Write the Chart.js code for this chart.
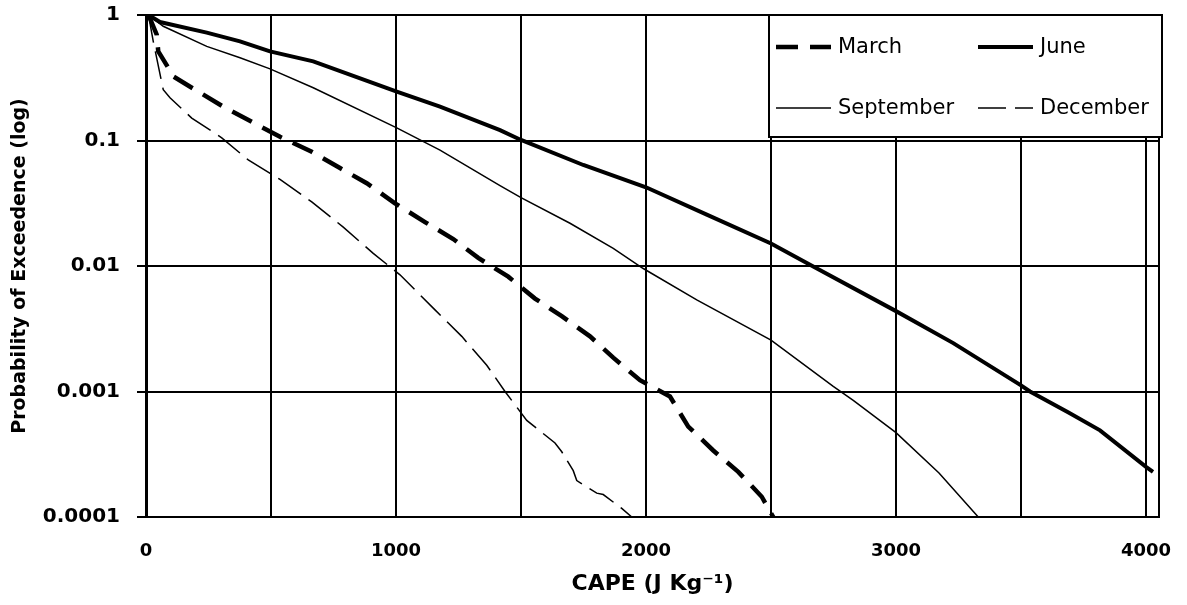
<!DOCTYPE html>
<html>
<head>
<meta charset="utf-8">
<title>Probability of Exceedence of CAPE</title>
<script src="https://cdn.jsdelivr.net/npm/chart.js@4.4.1/dist/chart.umd.min.js"></script>
<style>
  html, body { margin: 0; padding: 0; background: #fff; }
  canvas { display: block; }
</style>
</head>
<body>
<canvas id="capeChart" width="1187" height="605"></canvas>
<script>
// values (CAPE in J/kg, probability of exceedence)
const marchCape = [10, 43, 49, 89, 109, 196, 309, 423, 536, 663, 776, 883, 996, 1116, 1229, 1329, 1449, 1556, 1663, 1776, 1869, 1976, 2096, 2169, 2269, 2369, 2463, 2509];
const marchProb = [1, 0.697, 0.513, 0.380, 0.324, 0.254, 0.186, 0.141, 0.107, 0.0813, 0.0603, 0.0457, 0.0316, 0.0224, 0.0164, 0.0116, 0.00822, 0.00550, 0.00398, 0.00275, 0.00186, 0.00123, 0.000912, 0.000525, 0.000339, 0.000229, 0.000145, 0.0001];

const juneCape = [10, 56, 243, 376, 496, 669, 1003, 1176, 1416, 1500, 1749, 2000, 2243, 2500, 2669, 3000, 3229, 3500, 3536, 3690, 3816, 4000, 4028];
const juneProb = [1, 0.879, 0.724, 0.617, 0.513, 0.427, 0.245, 0.186, 0.121, 0.101, 0.0638, 0.0424, 0.0257, 0.0151, 0.00989, 0.00437, 0.00243, 0.00112, 0.0010, 0.00068, 0.00049, 0.000251, 0.000229];

const septCape = [10, 69, 243, 376, 496, 669, 1003, 1176, 1416, 1500, 1696, 1869, 1989, 2203, 2500, 2749, 2829, 3000, 3172, 3329];
const septProb = [1, 0.813, 0.562, 0.457, 0.372, 0.263, 0.126, 0.0839, 0.0437, 0.0351, 0.0219, 0.0138, 0.00955, 0.00537, 0.00257, 0.0011, 0.00085, 0.00047, 0.000224, 0.0001];

const decCape = [10, 29, 69, 96, 183, 303, 409, 536, 663, 789, 909, 1016, 1156, 1263, 1363, 1436, 1523, 1636, 1663, 1709, 1723, 1803, 1829, 1903, 1943];
const decProb = [1, 0.617, 0.254, 0.219, 0.151, 0.105, 0.070, 0.049, 0.0324, 0.0204, 0.0126, 0.00851, 0.00447, 0.00275, 0.00162, 0.001, 0.000589, 0.000389, 0.000331, 0.000234, 0.000195, 0.000155, 0.000151, 0.000117, 0.0001];

const seriesLabels = ['March', 'June', 'September', 'December'];
const yTicks = [0.0001, 0.001, 0.01, 0.1, 1];
const yTickLabels = ['0.0001', '0.001', '0.01', '0.1', '1'];
const xGrid = [0, 500, 1000, 1500, 2000, 2500, 3000, 3500, 4000];
const xTickLabels = ['0', '', '1000', '', '2000', '', '3000', '', '4000'];

const toPoints = (xs, ys) => xs.map((x, i) => ({ x: x, y: ys[i] }));

// right frame line + legend box in the top right corner
const frameAndLegend = {
  id: 'frameAndLegend',
  afterDraw(chart) {
    const { ctx, chartArea: a } = chart;
    ctx.save();
    ctx.strokeStyle = '#000';
    ctx.lineWidth = 2;
    ctx.beginPath();
    ctx.moveTo(a.right, a.top);
    ctx.lineTo(a.right, a.bottom);
    ctx.stroke();

    const boxL = a.right - 390, boxT = a.top, boxW = 393, boxH = 122;
    ctx.fillStyle = '#fff';
    ctx.fillRect(boxL, boxT, boxW, boxH);
    ctx.strokeRect(boxL, boxT, boxW, boxH);

    const colX = [boxL + 7, boxL + 209];
    const rowY = [boxT + 32, boxT + 93];
    chart.data.datasets.forEach((ds, i) => {
      const x0 = colX[i % 2], y0 = rowY[Math.floor(i / 2)];
      ctx.setLineDash(ds.borderDash || []);
      ctx.lineWidth = ds.borderWidth;
      ctx.strokeStyle = ds.borderColor;
      ctx.beginPath();
      ctx.moveTo(x0, y0);
      ctx.lineTo(x0 + 55, y0);
      ctx.stroke();
      ctx.setLineDash([]);
      ctx.fillStyle = '#000';
      ctx.font = '21px "DejaVu Sans"';
      ctx.textBaseline = 'middle';
      ctx.fillText(ds.label, x0 + 62, y0 + 1);
    });
    ctx.restore();
  }
};

const ctx = document.getElementById('capeChart').getContext('2d');
const capeChart = new Chart(ctx, {
  type: 'line',
  data: {
    datasets: [{
      label: seriesLabels[0],
      data: toPoints(marchCape, marchProb),
      borderColor: '#000',
      borderWidth: 4.5,
      borderDash: [22, 12]
    }, {
      label: seriesLabels[1],
      data: toPoints(juneCape, juneProb),
      borderColor: '#000',
      borderWidth: 4
    }, {
      label: seriesLabels[2],
      data: toPoints(septCape, septProb),
      borderColor: '#000',
      borderWidth: 1.5
    }, {
      label: seriesLabels[3],
      data: toPoints(decCape, decProb),
      borderColor: '#000',
      borderWidth: 1.5,
      borderDash: [28, 9]
    }]
  },
  options: {
    responsive: false,
    animation: false,
    layout: { padding: { top: 15, right: 28, left: 0, bottom: 0 } },
    elements: { point: { radius: 0 }, line: { tension: 0 } },
    plugins: {
      legend: { display: false },
      tooltip: { enabled: false }
    },
    scales: {
      x: {
        type: 'linear',
        min: 0,
        max: 4052,
        afterBuildTicks: (scale) => { scale.ticks = xGrid.map(v => ({ value: v })); },
        afterFit: (scale) => {
          scale.height = 88;
          scale.paddingLeft = 0;
          scale.paddingRight = 0;
        },
        grid: { color: '#000', lineWidth: 2, drawTicks: false },
        border: { color: '#000', width: 2 },
        ticks: {
          autoSkip: false,
          maxRotation: 0,
          padding: 24,
          color: '#000',
          font: { family: 'DejaVu Sans', size: 18, weight: 'bold' },
          callback: (v, i) => xTickLabels[i]
        },
        title: {
          display: true,
          text: 'CAPE (J Kg⁻¹)',
          color: '#000',
          font: { family: 'DejaVu Sans', size: 22, weight: 'bold' },
          padding: { bottom: 8 }
        }
      },
      y: {
        type: 'logarithmic',
        min: 0.0001,
        max: 1,
        afterBuildTicks: (scale) => { scale.ticks = yTicks.map(v => ({ value: v })); },
        afterFit: (scale) => {
          scale.width = 146;
          scale.paddingTop = 0;
          scale.paddingBottom = 0;
        },
        grid: { color: '#000', lineWidth: 2, tickLength: 9 },
        border: { color: '#000', width: 3 },
        ticks: {
          padding: 17,
          color: '#000',
          font: { family: 'DejaVu Sans', size: 20, weight: 'bold' },
          callback: (v, i) => yTickLabels[i]
        },
        title: {
          display: true,
          text: 'Probability of Exceedence (log)',
          color: '#000',
          font: { family: 'DejaVu Sans', size: 19, weight: 'bold' },
          padding: { top: 9 }
        }
      }
    }
  },
  plugins: [frameAndLegend]
});
</script>
</body>
</html>
